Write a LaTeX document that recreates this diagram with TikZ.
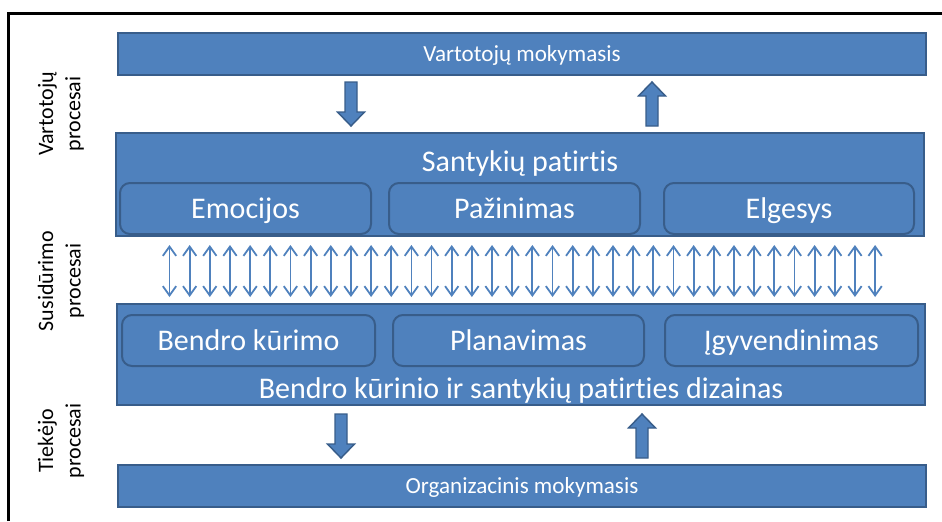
\documentclass[tikz,border=0pt]{standalone}
\usepackage{fontspec}
\setmainfont{Carlito}[Ligatures=NoCommon]
\usetikzlibrary{arrows.meta}
\definecolor{boxblue}{RGB}{79,129,189}
\definecolor{boxedge}{RGB}{56,93,138}
\tikzset{
  bar/.style={draw=boxedge,fill=boxblue,line width=1.5pt,inner sep=0pt,
    minimum width=606pt,text=white,text height=11.1pt,text depth=0pt},
  part/.style={draw=boxedge,fill=boxblue,line width=1.5pt,inner sep=0pt,
    rounded corners=7.5pt,minimum height=38.25pt,text=white,
    font=\fontsize{22.5}{26}\selectfont,text height=14.5pt,text depth=0pt},
  side/.style={rotate=90,align=center,font=\fontsize{16.5}{20.5}\selectfont},
  blk/.style={draw=boxedge,fill=boxblue,line width=1.1pt},
  pics/blkdown/.style={code={
    \draw[blk] (-6,0) -- (6,0) -- (6,30) -- (13.5,30) -- (0,44) -- (-13.5,30) -- (-6,30) -- cycle;}},
  pics/blkup/.style={code={
    \draw[blk] (-6,44) -- (6,44) -- (6,14) -- (13.5,14) -- (0,0) -- (-13.5,14) -- (-6,14) -- cycle;}},
}
\begin{document}
\begin{tikzpicture}[x=0.75pt,y=-0.75pt,>={Straight Barb[length=7pt,width=10pt]}]
  \useasboundingbox (0,0) rectangle (942,521);
  % frame
  \draw[line width=2.25pt,line join=miter] (8.8,521) -- (8.8,13.5) -- (942,13.5);
  % side labels
  \node[side] (vp) at (61,114) {Vartotojų\\procesai};
  \node[side] (sup) at (61,281) {Susidūrimo\\procesai};
  \node[side] (tp) at (61,441) {Tiekėjo\\procesai};
  % top bar
  \node[bar,minimum height=31.5pt,font=\fontsize{17.3}{20}\selectfont] (vm) at (522,54) {Vartotojų mokymasis};
  % experience box
  \node[bar,minimum height=77.25pt] (sp) at (520,184.5) {};
  \node[anchor=base,text=white,font=\fontsize{22.5}{26}\selectfont] (sptxt) at (520,171) {Santykių patirtis};
  \node[part,minimum width=188.25pt] (emo) at (245.5,208.5) {Emocijos};
  \node[part,minimum width=188.25pt] (paz) at (514.5,208.5) {Pažinimas};
  \node[part,minimum width=187.5pt] (elg) at (789,208.5) {Elgesys};
  % encounter arrows
  \foreach \i in {0,...,35}
    \draw[<->,boxblue,line width=1.35pt] ({169.5+\i*20.16},245) -- ({169.5+\i*20.16},297);
  % design box
  \node[bar,minimum height=75.75pt] (bd) at (521,354.5) {};
  \node[anchor=base,text=white,font=\fontsize{22.5}{26}\selectfont] (bdtxt) at (521,398.5) {Bendro kūrinio ir santykių patirties dizainas};
  \node[part,minimum width=189.75pt] (bk) at (248.5,340.5) {Bendro kūrimo};
  \node[part,minimum width=188.25pt] (plan) at (518.5,340.5) {Planavimas};
  \node[part,minimum width=189.75pt] (igy) at (791.5,340.5) {Įgyvendinimas};
  % bottom bar
  \node[bar,minimum height=31.5pt,font=\fontsize{17.3}{20}\selectfont] (om) at (522,486) {Organizacinis mokymasis};
  % block arrows
  \pic at (351,82) {blkdown};
  \pic at (652,82) {blkup};
  \pic at (341,414) {blkdown};
  \pic at (642,414) {blkup};
\end{tikzpicture}
\end{document}
